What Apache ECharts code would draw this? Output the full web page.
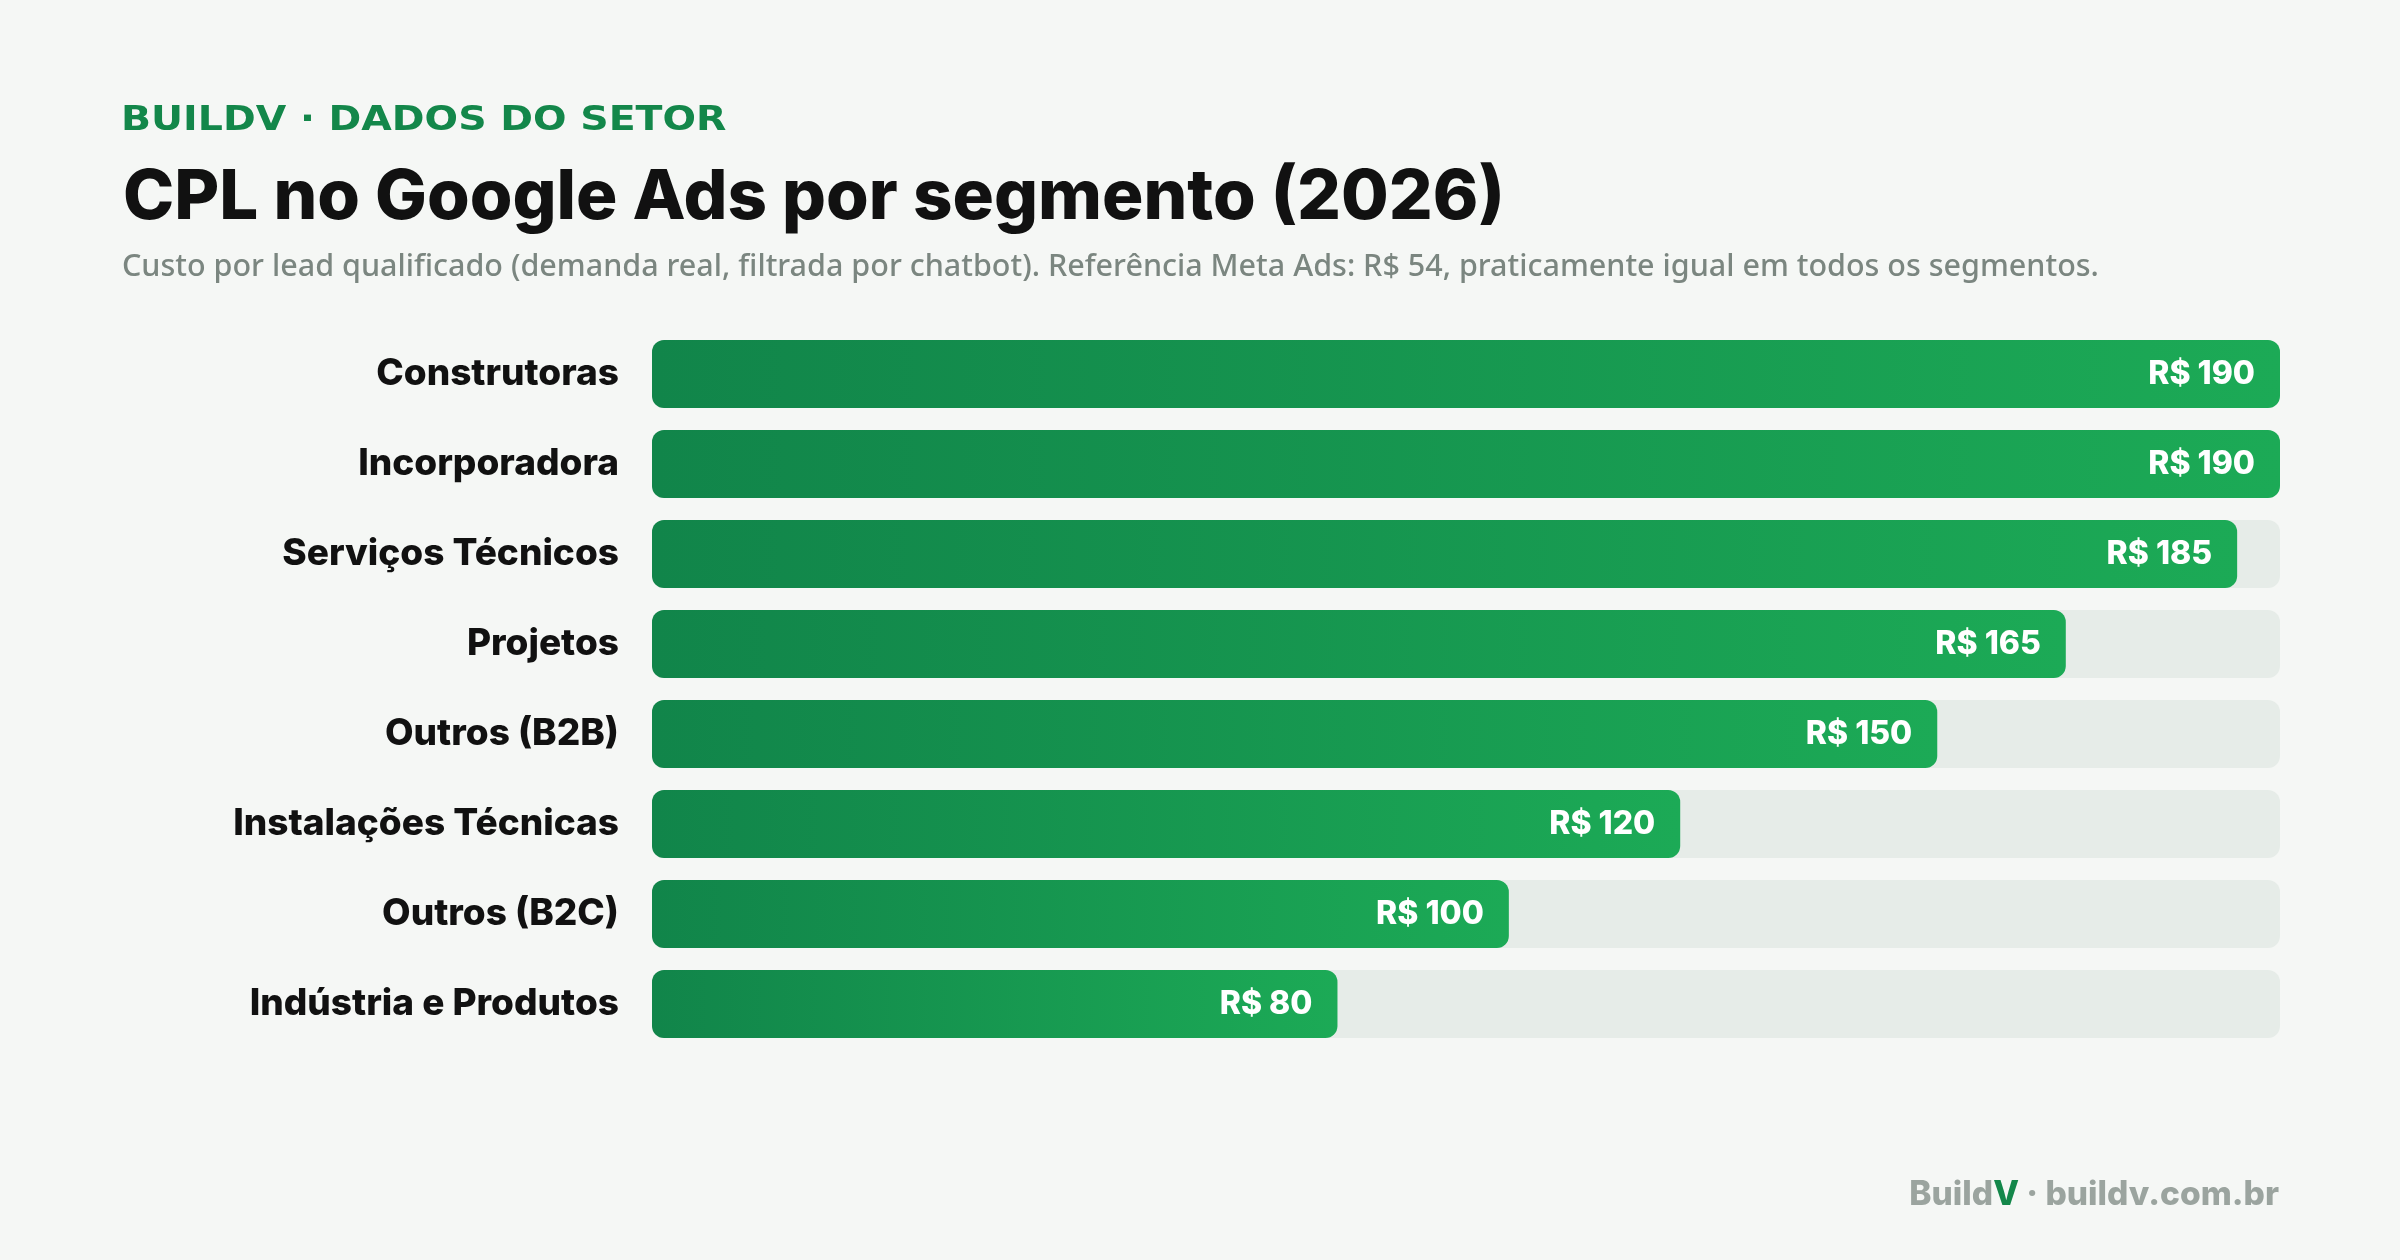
<!DOCTYPE html>
<html>
<head>
<meta charset="utf-8">
<script src="https://cdn.jsdelivr.net/npm/echarts@6/dist/echarts.min.js"></script>
<style>
  html, body { margin: 0; padding: 0; background: #f5f7f5; }
  #chart { width: 2400px; height: 1260px; }
</style>
</head>
<body>
<div id="chart"></div>
<script>
// segmentos e CPL (R$)
const categories = [
  'Construtoras',
  'Incorporadora',
  'Serviços Técnicos',
  'Projetos',
  'Outros (B2B)',
  'Instalações Técnicas',
  'Outros (B2C)',
  'Indústria e Produtos'
];
const cpl = [190, 190, 185, 165, 150, 120, 100, 80];
const axisMax = 190;

const kicker = 'BUILDV · DADOS DO SETOR';
const heading = 'CPL no Google Ads por segmento (2026)';
const subheading = 'Custo por lead qualificado (demanda real, filtrada por chatbot). Referência Meta Ads: R$ 54, praticamente igual em todos os segmentos.';

const FONT = 'Inter, "DejaVu Sans", sans-serif';

const chart = echarts.init(document.getElementById('chart'));

const option = {
  backgroundColor: '#f5f7f5',
  // kicker esticado na horizontal pra imitar o espaçamento entre letras
  graphic: [
    {
      type: 'text',
      x: 121,
      y: 104,
      scaleX: 1.16,
      style: {
        text: kicker,
        font: 'bold 34px "DejaVu Sans", sans-serif',
        fill: '#13874a',
        verticalAlign: 'top'
      }
    }
  ],
  title: [
    {
      text: heading,
      left: 118,
      top: 159,
      textStyle: { fontFamily: FONT, fontSize: 69, fontWeight: 800, color: '#111111' }
    },
    {
      text: subheading,
      left: 117,
      top: 247,
      textStyle: { fontFamily: '"Noto Sans", sans-serif', fontSize: 30.5, fontWeight: 500, color: '#7b8680' }
    },
    {
      text: '{g|Build}{v|V}{g| · buildv.com.br}',
      right: 116,
      top: 1173,
      textStyle: {
        rich: {
          g: { fontFamily: FONT, fontSize: 33.5, fontWeight: 800, color: '#9ba49f' },
          v: { fontFamily: FONT, fontSize: 33.5, fontWeight: 800, color: '#13874a' }
        }
      }
    }
  ],
  grid: {
    left: 652,
    right: 120,
    top: 329,
    bottom: 211,
    containLabel: false
  },
  xAxis: {
    type: 'value',
    min: 0,
    max: axisMax,
    show: false
  },
  yAxis: {
    type: 'category',
    data: categories,
    inverse: true,
    axisLine: { show: false },
    axisTick: { show: false },
    splitLine: { show: false },
    axisLabel: {
      margin: 33,
      fontFamily: FONT,
      fontSize: 37,
      fontWeight: 800,
      color: '#111111'
    }
  },
  series: [
    {
      // trilho de fundo
      type: 'bar',
      data: categories.map(() => axisMax),
      barWidth: 68,
      barGap: '-100%',
      silent: true,
      itemStyle: { color: '#e6ece8', borderRadius: 12 },
      z: 1
    },
    {
      type: 'bar',
      data: cpl,
      barWidth: 68,
      z: 2,
      itemStyle: {
        borderRadius: 12,
        color: new echarts.graphic.LinearGradient(0, 0, 1, 0, [
          { offset: 0, color: '#11854a' },
          { offset: 1, color: '#1caa56' }
        ])
      },
      label: {
        show: true,
        position: 'insideRight',
        distance: 25,
        formatter: 'R$ {c}',
        fontFamily: FONT,
        fontSize: 32,
        fontWeight: 800,
        color: '#ffffff'
      }
    }
  ]
};

chart.setOption(option);

window.addEventListener('resize', () => chart.resize());
</script>
</body>
</html>
